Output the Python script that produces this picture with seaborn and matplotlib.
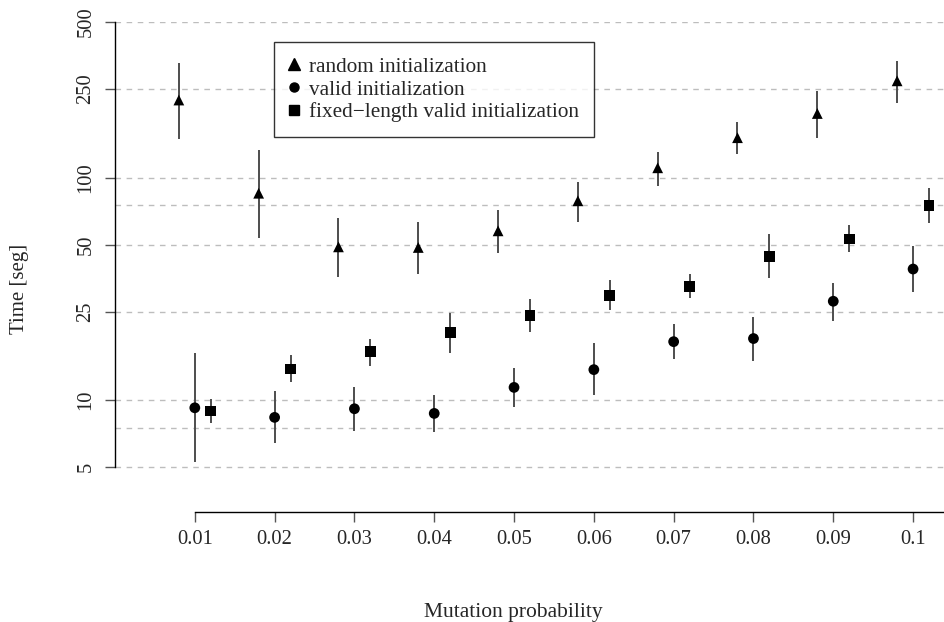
#!/usr/bin/env python3
"""
Run time vs mutation probability for three initialization strategies
(log scale, mean with error bars), redrawn with seaborn.
"""
import numpy as np
import pandas as pd
import matplotlib
matplotlib.use('Agg')
import matplotlib.pyplot as plt
import seaborn as sns
from matplotlib.lines import Line2D

# Data
mutation_prob = [0.01, 0.02, 0.03, 0.04, 0.05, 0.06, 0.07, 0.08, 0.09, 0.10]

random_mean = [223, 85, 48.8, 48.5, 57.6, 78.6, 110.6, 151, 194, 272]
random_low = [149, 53.4, 35.6, 36.7, 45.6, 63.2, 91.8, 128, 151, 217]
random_high = [326, 133, 65.9, 63.2, 71.4, 95.7, 130, 177, 244, 334]

valid_mean = [9.23, 8.36, 9.14, 8.71, 11.4, 13.7, 18.3, 18.9, 27.8, 38.8]
valid_low = [5.28, 6.39, 7.26, 7.21, 9.27, 10.5, 15.3, 15.0, 22.7, 30.7]
valid_high = [16.2, 11.0, 11.5, 10.5, 14.0, 18.0, 21.9, 23.7, 33.6, 49.2]

fixed_mean = [8.92, 13.8, 16.5, 20.1, 23.9, 29.6, 32.5, 44.3, 52.9, 74.6]
fixed_low = [7.91, 12.1, 14.2, 16.3, 20.3, 25.4, 28.9, 35.4, 46.2, 62.2]
fixed_high = [10.07, 15.9, 18.9, 24.5, 28.4, 34.6, 36.8, 55.5, 61.1, 89.3]

methods = ['random initialization', 'valid initialization',
           'fixed\u2212length valid initialization']
offsets = [-0.002, 0.0, 0.002]

x_labels = ['0.01', '0.02', '0.03', '0.04', '0.05', '0.06', '0.07', '0.08', '0.09', '0.1']
y_ticks = [5, 10, 25, 50, 100, 250, 500]
grid_levels = [5, 7.5, 10, 25, 50, 75, 100, 250, 500]

# Build a long-form table
rows = []
series = [(random_mean, random_low, random_high),
          (valid_mean, valid_low, valid_high),
          (fixed_mean, fixed_low, fixed_high)]
for name, off, (mean, low, high) in zip(methods, offsets, series):
    for p, m, lo, hi in zip(mutation_prob, mean, low, high):
        rows.append({'method': name, 'x': p + off, 'time': m, 'low': lo, 'high': hi})
df = pd.DataFrame(rows)

sns.set_theme(style='white')
plt.rcParams['font.family'] = ['Liberation Serif', 'DejaVu Serif']

W, H = 945, 622
fig = plt.figure(figsize=(W / 100, H / 100), dpi=100)
ax = fig.add_axes([115 / W, 1 - 511.7 / H, 830 / W, (511.7 - 22) / H])

ax.set_yscale('log')
ax.set_xlim(0, 0.104)
ax.set_ylim(3.15, 500)

# Dashed grid lines
for g in grid_levels:
    ax.axhline(g, color='#bdbdbd', linestyle=(0, (4, 4)), linewidth=1.0, zorder=0)

# Error bars
ax.vlines(df['x'], df['low'], df['high'], color='#4d4d4d', linewidth=1.4, zorder=2)

sns.scatterplot(data=df, x='x', y='time', style='method', style_order=methods,
                markers={methods[0]: '^', methods[1]: 'o', methods[2]: 's'},
                color='black', s=60, edgecolor='none', linewidth=0, ax=ax, zorder=3,
                legend=False)

# Axes in R base style
for side in ['top', 'right']:
    ax.spines[side].set_visible(False)
ax.spines['left'].set_bounds(5, 500)
ax.spines['bottom'].set_bounds(0.01, 0.104)
for side in ['left', 'bottom']:
    ax.spines[side].set_color('black')
    ax.spines[side].set_linewidth(1.0)

ax.set_xticks(mutation_prob)
ax.set_xticklabels(x_labels)
ax.set_yticks(y_ticks)
ax.set_yticklabels([str(t) for t in y_ticks], rotation=90, va='center')
ax.yaxis.set_minor_locator(matplotlib.ticker.NullLocator())
ax.tick_params(axis='both', which='major', direction='out', length=7.2, width=1.0,
               color='#555555', labelsize=14.8, left=True, bottom=True)
ax.tick_params(axis='y', pad=7)
ax.tick_params(axis='x', pad=6)
ax.set_xlabel('')
ax.set_ylabel('')

fig.text(513 / W, 1 - 617 / H, 'Mutation probability', ha='center', va='baseline',
         fontsize=15.5)
fig.text(20 / W, 1 - 289 / H, 'Time [seg]', ha='center', va='center',
         rotation=90, fontsize=15)

# Legend with markers only
handles = [Line2D([], [], linestyle='none', marker=m, color='black', markersize=ms)
           for m, ms in zip(['^', 'o', 's'], [8.5, 6.5, 6.5])]
leg = ax.legend(handles, methods, loc='upper left',
                bbox_to_anchor=(274 / W, 1 - 42 / H), bbox_transform=fig.transFigure,
                borderaxespad=0, frameon=True, fancybox=False, fontsize=15.3,
                handlelength=0.5, handletextpad=0.45, labelspacing=0.14,
                borderpad=0.7)
leg.get_frame().set_edgecolor('black')
leg.get_frame().set_linewidth(1.0)

fig.savefig('out.png', dpi=100)
